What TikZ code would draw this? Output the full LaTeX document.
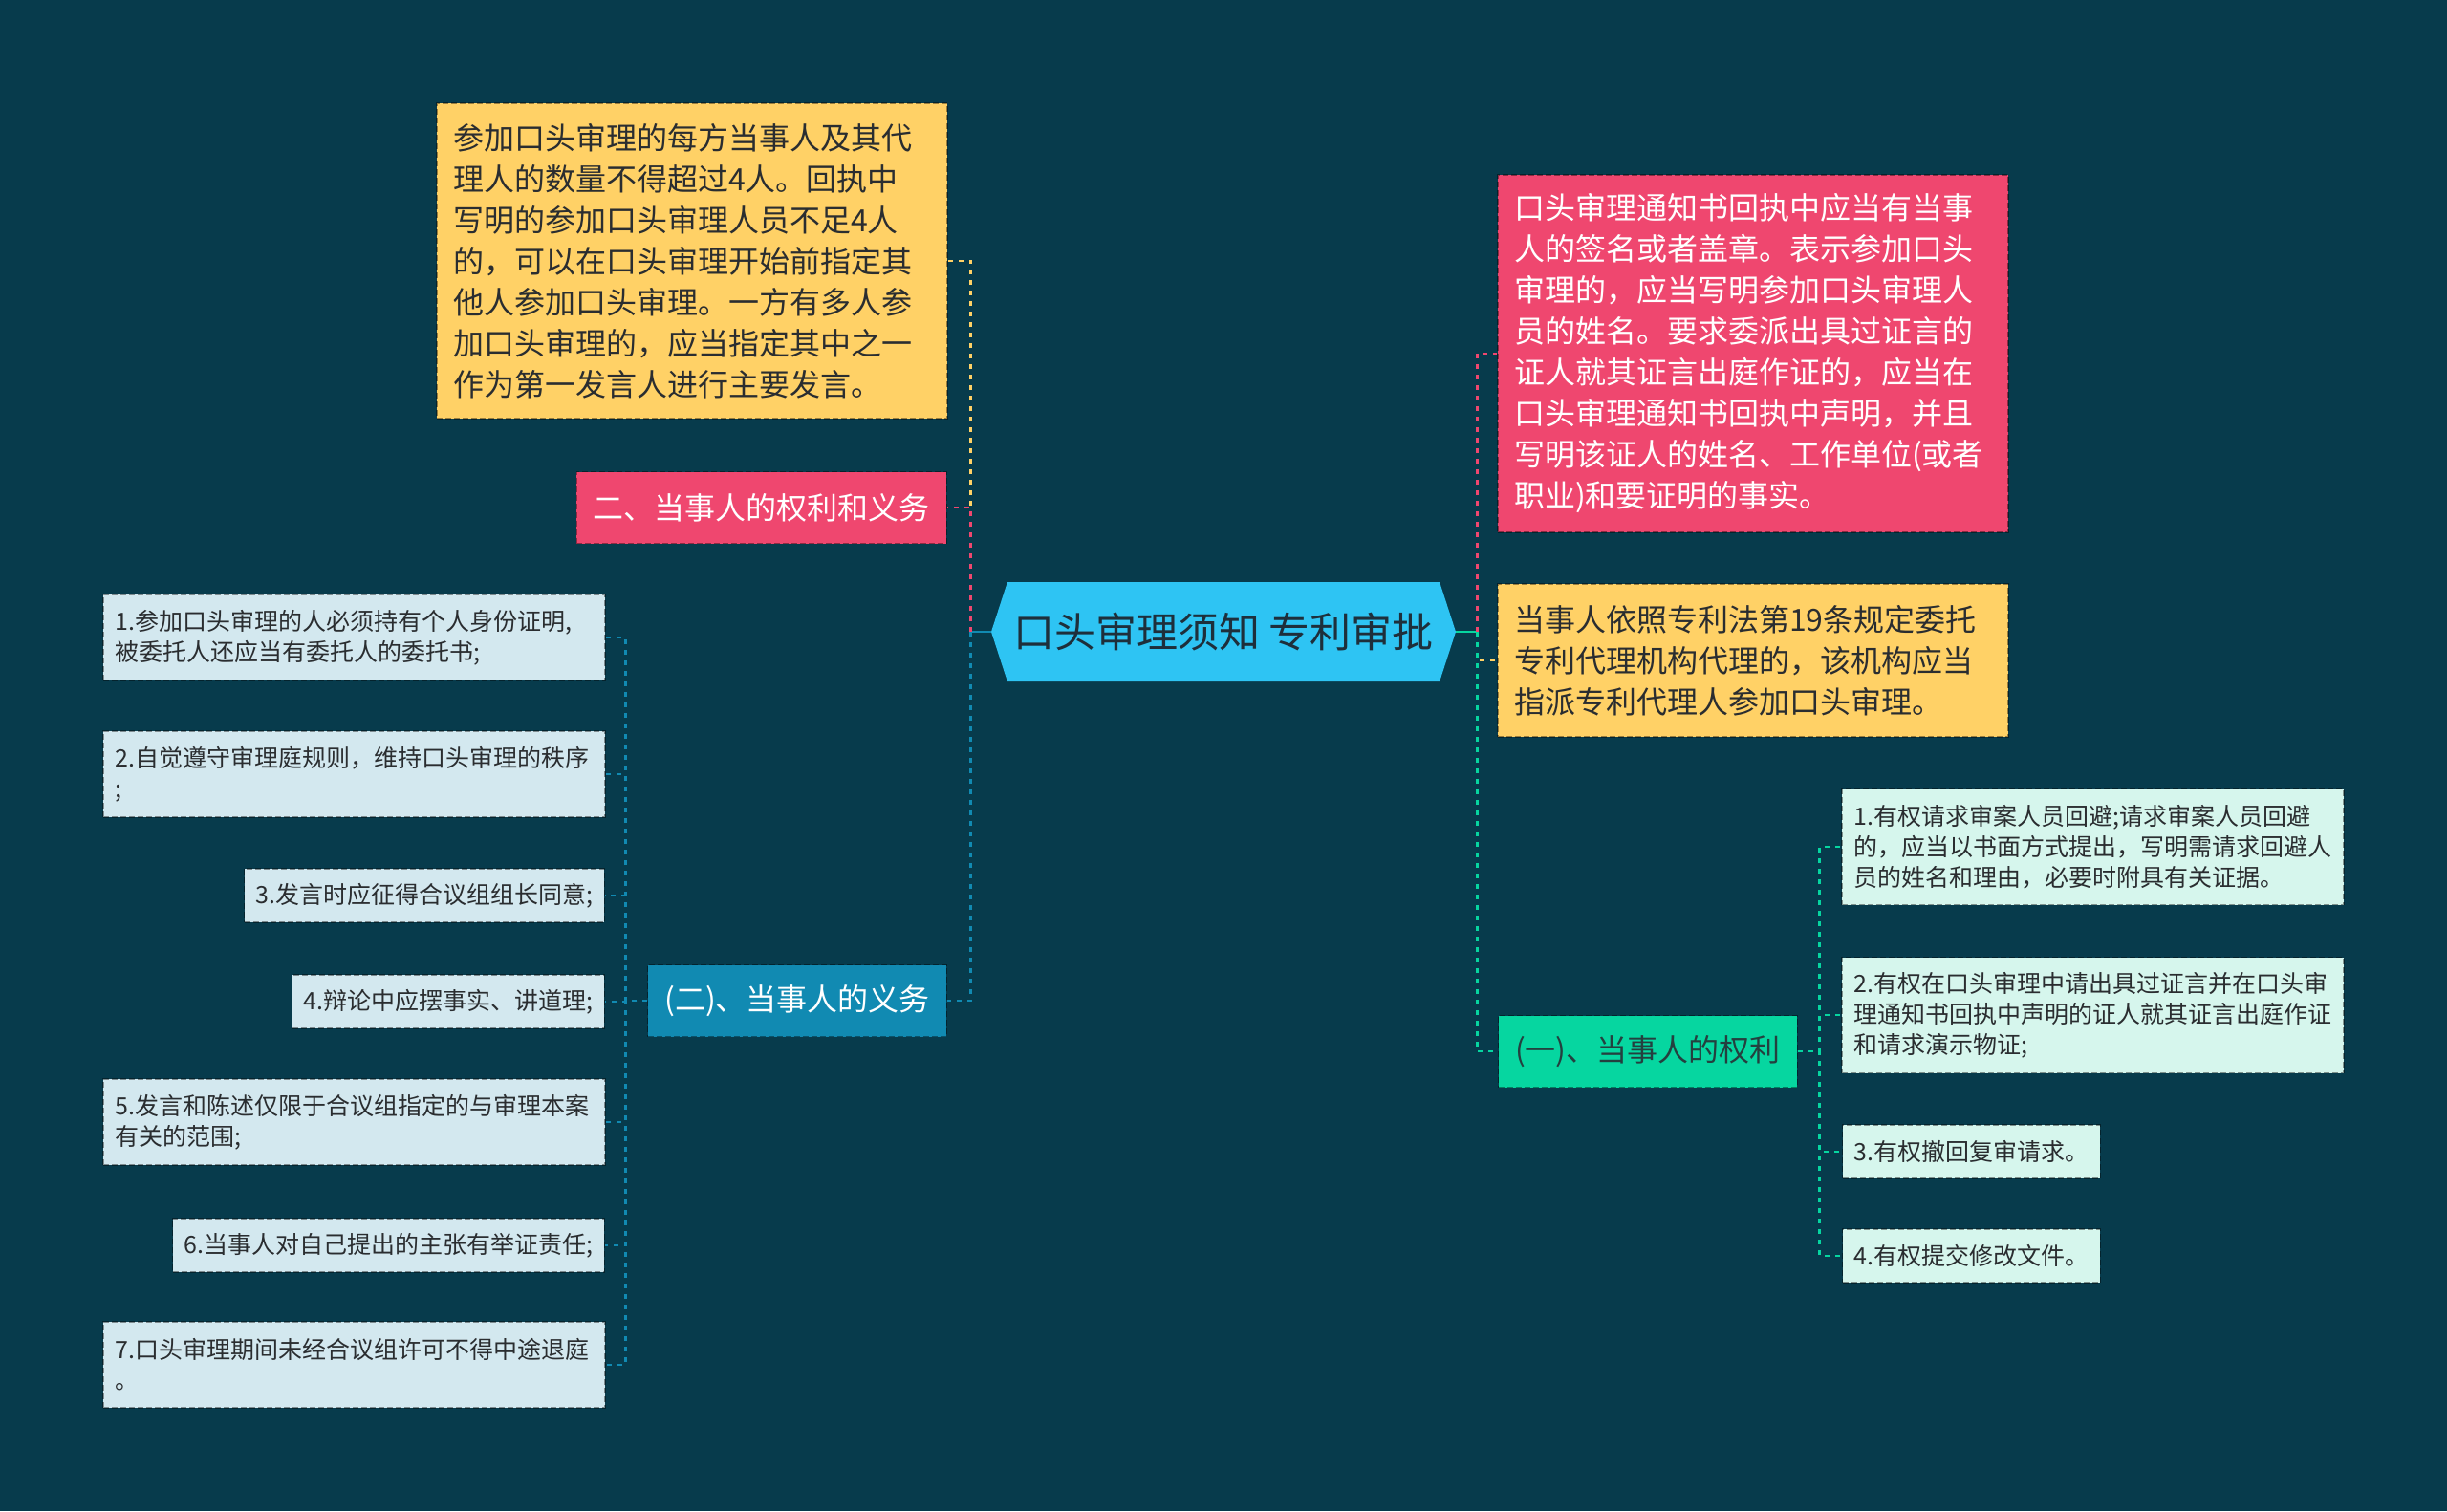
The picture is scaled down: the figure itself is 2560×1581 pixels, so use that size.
\documentclass[tikz,border=0pt]{standalone}
\usepackage{fontspec}
\setmainfont{Noto Sans CJK SC}
\usepackage{tikz}
\usetikzlibrary{shapes.symbols}

\definecolor{bgc}{HTML}{073B4C}
\definecolor{pinkc}{HTML}{EF476F}
\definecolor{yellowc}{HTML}{FFD166}
\definecolor{greenc}{HTML}{06D6A0}
\definecolor{bluec}{HTML}{118AB2}
\definecolor{rootc}{HTML}{2EC4F3}
\definecolor{lbluec}{HTML}{D3E8EF}
\definecolor{mintc}{HTML}{D6F6ED}
\definecolor{textc}{HTML}{2A2D30}
\definecolor{roottext}{HTML}{1E2F3B}
\definecolor{greentext}{HTML}{24403F}

\begin{document}
\begin{tikzpicture}[x=0.5pt,y=-0.5pt,
    box/.style={rectangle, draw=black, draw opacity=0.4, dash pattern=on 3pt off 1.5pt, line width=0.6pt, inner ysep=0pt},
    bigbox/.style={box, text width=250pt, inner xsep=8.5pt, align=left, font=\fontsize{16}{21.5}\selectfont},
    midbox/.style={box, inner xsep=8.75pt, minimum height=37.5pt, font=\fontsize{16}{19}\selectfont},
    leaf/.style={box, text width=250pt, inner xsep=6.25pt, align=left, text=textc, font=\fontsize{12.5}{16}\selectfont},
    shortleaf/.style={box, inner xsep=6pt, minimum height=28pt, text=textc, font=\fontsize{12.5}{16}\selectfont},
    link/.style={line width=1.4pt, dash pattern=on 2.5pt off 3pt}]

    \fill[bgc] (0,0) rectangle (2560,1581);
    \useasboundingbox (0,0) rectangle (2560,1581);

    \node[signal, signal to=west and east, signal pointer angle=144, fill=rootc, minimum width=243pt, minimum height=52pt, inner xsep=0pt, text=roottext, font=\fontsize{21.5}{25}\selectfont] (root) at (1280,661) {口头审理须知 专利审批};

    % left side
    \node[bigbox, fill=yellowc, text=textc, minimum height=165pt] (ly) at (724,273) {参加口头审理的每方当事人及其代\\理人的数量不得超过4人。回执中\\写明的参加口头审理人员不足4人\\的，可以在口头审理开始前指定其\\他人参加口头审理。一方有多人参\\加口头审理的，应当指定其中之一\\作为第一发言人进行主要发言。};
    \node[midbox, fill=pinkc, text=white, anchor=east] (lr) at (991,531) {二、当事人的权利和义务};
    \node[midbox, fill=bluec, text=white, anchor=east] (duty) at (991,1047) {(二)、当事人的义务};

    \node[leaf, fill=lbluec, minimum height=45pt] (d1) at (370.5,667) {1.参加口头审理的人必须持有个人身份证明,\\被委托人还应当有委托人的委托书;};
    \node[leaf, fill=lbluec, minimum height=45pt] (d2) at (370.5,810) {2.自觉遵守审理庭规则，维持口头审理的秩序\\;};
    \node[shortleaf, fill=lbluec, anchor=east] (d3) at (633,937) {3.发言时应征得合议组组长同意;};
    \node[shortleaf, fill=lbluec, anchor=east] (d4) at (633,1048) {4.辩论中应摆事实、讲道理;};
    \node[leaf, fill=lbluec, minimum height=45pt] (d5) at (370.5,1174) {5.发言和陈述仅限于合议组指定的与审理本案\\有关的范围;};
    \node[shortleaf, fill=lbluec, anchor=east] (d6) at (633,1303) {6.当事人对自己提出的主张有举证责任;};
    \node[leaf, fill=lbluec, minimum height=45pt] (d7) at (370.5,1428) {7.口头审理期间未经合议组许可不得中途退庭\\。};

    % right side
    \node[bigbox, fill=pinkc, text=white, minimum height=187pt] (rr) at (1834,370) {口头审理通知书回执中应当有当事\\人的签名或者盖章。表示参加口头\\审理的，应当写明参加口头审理人\\员的姓名。要求委派出具过证言的\\证人就其证言出庭作证的，应当在\\口头审理通知书回执中声明，并且\\写明该证人的姓名、工作单位(或者\\职业)和要证明的事实。};
    \node[bigbox, fill=yellowc, text=textc, minimum height=80pt] (ry) at (1834,691) {当事人依照专利法第19条规定委托\\专利代理机构代理的，该机构应当\\指派专利代理人参加口头审理。};
    \node[midbox, fill=greenc, text=greentext, anchor=west] (rights) at (1567,1100) {(一)、当事人的权利};

    \node[leaf, fill=mintc, minimum height=60.5pt] (r1) at (2189.5,886) {1.有权请求审案人员回避;请求审案人员回避\\的，应当以书面方式提出，写明需请求回避人\\员的姓名和理由，必要时附具有关证据。};
    \node[leaf, fill=mintc, minimum height=60.5pt] (r2) at (2189.5,1062) {2.有权在口头审理中请出具过证言并在口头审\\理通知书回执中声明的证人就其证言出庭作证\\和请求演示物证;};
    \node[shortleaf, fill=mintc, anchor=west] (r3) at (1927,1205) {3.有权撤回复审请求。};
    \node[shortleaf, fill=mintc, anchor=west] (r4) at (1927,1314) {4.有权提交修改文件。};

    % connectors
    \coordinate (lhub) at ([xshift=-10.5pt]root.west);
    \coordinate (rhub) at ([xshift=11pt]root.east);
    \draw[bluec, line width=1.4pt] (root.west) -- (lhub);
    \draw[greenc, line width=1.4pt] (root.east) -- (rhub);

    \draw[link, yellowc] (lhub) |- (ly.east);
    \draw[link, pinkc] (lhub) |- (lr.east);
    \draw[link, bluec] (lhub) |- (duty.east);
    \draw[link, pinkc] (rhub) |- (rr.west);
    \draw[link, yellowc] (rhub) |- (ry.west);
    \draw[link, greenc] (rhub) |- (rights.west);

    \foreach \i in {1,...,7}
        \draw[link, bluec] (duty.west) -- ++(-23,0) |- (d\i.east);
    \foreach \i in {1,...,4}
        \draw[link, greenc] (rights.east) -- ++(23,0) |- (r\i.west);
\end{tikzpicture}
\end{document}
